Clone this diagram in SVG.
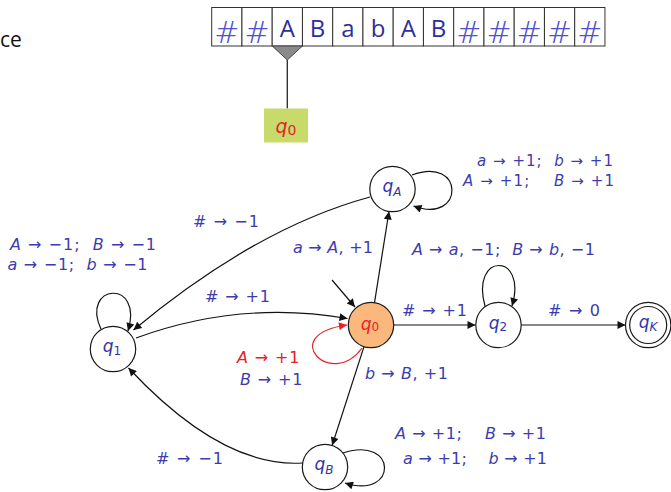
<svg xmlns="http://www.w3.org/2000/svg" width="671" height="492" viewBox="0 0 671 492">
<style>
.cell{fill:#fff;stroke:#333;stroke-width:1}
.tl{font-family:"Open Sans","Liberation Sans",sans-serif;font-size:24px;fill:#2e2e98;text-anchor:middle}
.th{font-family:"DejaVu Sans",sans-serif;font-weight:200;font-size:30px;fill:#5050cc;text-anchor:middle}
.node circle{fill:#fff;stroke:#1a1a1a;stroke-width:1.2}
.nl{font-family:"DejaVu Sans",sans-serif;font-size:17px;fill:#3434a6;text-anchor:middle}
.lbl{font-family:"DejaVu Sans",sans-serif;font-size:16px;fill:#3c3cae;white-space:pre}
.e{fill:none;stroke:#111;stroke-width:1.2;marker-end:url(#ah)}
.i{font-style:italic}
</style>
<defs>
<marker id="ah" viewBox="0 0 10 10" refX="10" refY="5" markerWidth="11" markerHeight="8" markerUnits="userSpaceOnUse" orient="auto"><path d="M0,0 L10,5 L0,10 z" fill="#111"/></marker>
<marker id="ahr" viewBox="0 0 10 10" refX="10" refY="5" markerWidth="11" markerHeight="8" markerUnits="userSpaceOnUse" orient="auto"><path d="M0,0 L10,5 L0,10 z" fill="#e82028"/></marker>
</defs>
<rect width="671" height="492" fill="#fff"/>
<text x="0" y="47" font-family="'Open Sans','Liberation Sans',sans-serif" font-size="21" fill="#111">ce</text>

<g id="tape">
<rect class="cell" x="211.7" y="7.5" width="30.25" height="38.5"/>
<rect class="cell" x="241.95" y="7.5" width="30.25" height="38.5"/>
<rect class="cell" x="272.2" y="7.5" width="30.25" height="38.5"/>
<rect class="cell" x="302.45" y="7.5" width="30.25" height="38.5"/>
<rect class="cell" x="332.7" y="7.5" width="30.25" height="38.5"/>
<rect class="cell" x="362.95" y="7.5" width="30.25" height="38.5"/>
<rect class="cell" x="393.2" y="7.5" width="30.25" height="38.5"/>
<rect class="cell" x="423.45" y="7.5" width="30.25" height="38.5"/>
<rect class="cell" x="453.7" y="7.5" width="30.25" height="38.5"/>
<rect class="cell" x="483.95" y="7.5" width="30.25" height="38.5"/>
<rect class="cell" x="514.2" y="7.5" width="30.25" height="38.5"/>
<rect class="cell" x="544.45" y="7.5" width="30.25" height="38.5"/>
<rect class="cell" x="574.7" y="7.5" width="30.25" height="38.5"/>
<text class="th" x="226.8" y="43">#</text>
<text class="th" x="257.1" y="43">#</text>
<text class="tl" x="287.3" y="37">A</text>
<text class="tl" x="317.6" y="37">B</text>
<text class="tl" x="347.8" y="37">a</text>
<text class="tl" x="378.1" y="37">b</text>
<text class="tl" x="408.3" y="37">A</text>
<text class="tl" x="438.6" y="37">B</text>
<text class="th" x="468.8" y="43">#</text>
<text class="th" x="499.1" y="43">#</text>
<text class="th" x="529.3" y="43">#</text>
<text class="th" x="559.6" y="43">#</text>
<text class="th" x="589.8" y="43">#</text>
</g>

<g id="head">
<path d="M272.2,46 L302.4,46 L287.3,60 Z" fill="#8a8a8a" stroke="#444" stroke-width="1"/>
<line x1="287.3" y1="60" x2="287.3" y2="108.5" stroke="#333" stroke-width="1.4"/>
<rect x="264" y="108.5" width="44" height="34" fill="#c8db6a"/>
<text x="286" y="133" font-family="'DejaVu Sans',sans-serif" font-size="19" fill="#e8202a" text-anchor="middle"><tspan font-style="italic">q</tspan><tspan font-size="14" dy="2">0</tspan></text>
</g>

<g id="connectors">
<path class="e" d="M374.5,302.6 L389,211.5"/>
<path class="e" d="M364,346.6 L332.2,445.3"/>
<path class="e" d="M393.7,325 L475.5,325"/>
<path class="e" d="M521.3,325 L625.5,325"/>
<path class="e" d="M332,280 L355,307"/>
<path class="e" d="M370,197 Q256,228 133.5,330"/>
<path class="e" d="M136,338 Q240,300 347.5,318.5"/>
<path class="e" d="M302.5,463 Q222,468 128.5,368"/>
<path class="e" d="M101,329 C80,284 144,278 128,331"/>
<path class="e" d="M412,175 C465,155 465,225 413.5,206"/>
<path class="e" d="M485,306 C470,252 528,252 512,306"/>
<path class="e" d="M343,453 C398,435 398,500 345,483"/>
<path d="M362,348 C332,390 276,335 347,325" fill="none" stroke="#e82028" stroke-width="1.2" marker-end="url(#ahr)"/>
</g>

<g id="labels" xml:space="preserve">
<text class="lbl" x="193" y="227" textLength="66" lengthAdjust="spacing"># → −1</text>
<text class="lbl" x="10" y="250" textLength="146" lengthAdjust="spacing"><tspan class="i">A</tspan> → −1;  <tspan class="i">B</tspan> → −1</text>
<text class="lbl" x="7.5" y="270" textLength="140" lengthAdjust="spacing"><tspan class="i">a</tspan> → −1;  <tspan class="i">b</tspan> → −1</text>
<text class="lbl" x="205" y="302" textLength="65" lengthAdjust="spacing"># → +1</text>
<text class="lbl" x="293" y="253" textLength="80" lengthAdjust="spacing"><tspan class="i">a</tspan> → <tspan class="i">A</tspan>, +1</text>
<text class="lbl" x="477" y="166" font-size="15" style="font-size:15px" textLength="136" lengthAdjust="spacing"><tspan class="i">a</tspan> → +1;  <tspan class="i">b</tspan> → +1</text>
<text class="lbl" x="463" y="185.5" font-size="15" style="font-size:15px" textLength="151" lengthAdjust="spacing"><tspan class="i">A</tspan> → +1;    <tspan class="i">B</tspan> → +1</text>
<text class="lbl" x="412" y="255" textLength="183" lengthAdjust="spacing"><tspan class="i">A</tspan> → <tspan class="i">a</tspan>, −1;  <tspan class="i">B</tspan> → <tspan class="i">b</tspan>, −1</text>
<text class="lbl" x="402" y="316" textLength="65" lengthAdjust="spacing"># → +1</text>
<text class="lbl" x="548" y="316" textLength="52" lengthAdjust="spacing"># → 0</text>
<text class="lbl" x="237" y="363" textLength="62.5" lengthAdjust="spacing" style="fill:#e82028"><tspan class="i">A</tspan> → +1</text>
<text class="lbl" x="240" y="385" textLength="62.5" lengthAdjust="spacing"><tspan class="i">B</tspan> → +1</text>
<text class="lbl" x="365" y="379" textLength="83" lengthAdjust="spacing"><tspan class="i">b</tspan> → <tspan class="i">B</tspan>, +1</text>
<text class="lbl" x="395" y="439" textLength="151" lengthAdjust="spacing"><tspan class="i">A</tspan> → +1;    <tspan class="i">B</tspan> → +1</text>
<text class="lbl" x="403" y="464" textLength="144" lengthAdjust="spacing"><tspan class="i">a</tspan> → +1;    <tspan class="i">b</tspan> → +1</text>
<text class="lbl" x="156" y="464" textLength="67" lengthAdjust="spacing"># → −1</text>
</g>

<g id="q0" class="node">
<circle cx="371" cy="325" r="22.7" style="fill:#fbb87c"/>
<text class="nl" x="370" y="330" style="fill:#e82028"><tspan class="i">q</tspan><tspan font-size="12" dy="1">0</tspan></text>
</g>
<g id="qA" class="node">
<circle cx="392.5" cy="189" r="22.7"/>
<text class="nl" x="392" y="192"><tspan class="i">q</tspan><tspan class="i" font-size="12" dy="4">A</tspan></text>
</g>
<g id="q1" class="node">
<circle cx="113" cy="349" r="22.7"/>
<text class="nl" x="112" y="352"><tspan class="i">q</tspan><tspan font-size="12" dy="3">1</tspan></text>
</g>
<g id="q2" class="node">
<circle cx="498.5" cy="325" r="22.7"/>
<text class="nl" x="498" y="329"><tspan class="i">q</tspan><tspan font-size="12" dy="2">2</tspan></text>
</g>
<g id="qK" class="node">
<circle cx="648.2" cy="325" r="22.7"/>
<circle cx="648.2" cy="325" r="18.5"/>
<text class="nl" x="648" y="328"><tspan class="i">q</tspan><tspan class="i" font-size="12" dy="3">K</tspan></text>
</g>
<g id="qB" class="node">
<circle cx="325" cy="467" r="22.7"/>
<text class="nl" x="324" y="470"><tspan class="i">q</tspan><tspan class="i" font-size="12" dy="4">B</tspan></text>
</g>
</svg>
